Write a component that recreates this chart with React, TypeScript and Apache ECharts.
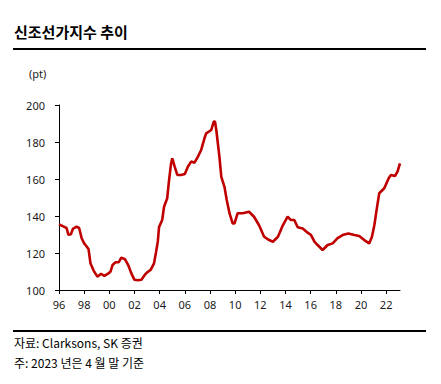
import React, { useEffect, useRef } from "react";
import * as echarts from "echarts";

// Decimal year (year + month fraction) and index value (pt)
const dates: number[] = [
  1996.0, 1996.3, 1996.6, 1996.75, 1996.95, 1997.1, 1997.4, 1997.6, 1997.8, 1998.0,
  1998.2, 1998.35, 1998.5, 1998.75, 1999.05, 1999.35, 1999.6, 1999.9, 2000.1, 2000.25,
  2000.5, 2000.75, 2000.95, 2001.25, 2001.5, 2001.75, 2002.0, 2002.25, 2002.55, 2002.8,
  2003.0, 2003.3, 2003.55, 2003.7, 2003.85, 2003.95, 2004.2, 2004.35, 2004.6, 2004.75,
  2004.9, 2005.0, 2005.2, 2005.4, 2005.7, 2006.0, 2006.24, 2006.5, 2006.77, 2007.03,
  2007.3, 2007.56, 2007.7, 2008.1, 2008.3, 2008.4, 2008.5, 2008.75, 2008.9, 2009.15,
  2009.33, 2009.55, 2009.8, 2009.95, 2010.2, 2010.6, 2011.1, 2011.5, 2011.9, 2012.3,
  2012.7, 2013.0, 2013.4, 2013.8, 2014.17, 2014.44, 2014.7, 2014.97, 2015.37, 2015.76,
  2016.03, 2016.3, 2016.55, 2016.95, 2017.35, 2017.75, 2018.14, 2018.54, 2019.0, 2019.47,
  2019.86, 2020.26, 2020.65, 2020.87, 2021.06, 2021.32, 2021.45, 2021.85, 2022.2, 2022.38,
  2022.7, 2022.9, 2023.1,
];
const values: number[] = [
  135.5, 134.5, 133.5, 129.8, 130.2, 133, 134.2, 133.5, 128, 125.2,
  123.5, 122, 114.5, 110.5, 107.2, 108.8, 107.6, 108.8, 110, 113.5,
  115, 115, 117.5, 116.6, 113.5, 109, 105.5, 105.3, 105.5, 108,
  109.5, 111, 114.4, 120, 126, 134, 137.8, 145, 149.6, 159.5,
  168, 171.2, 166.6, 162.2, 162.2, 162.7, 166.6, 169.4, 168.8, 172,
  175.7, 182, 184.7, 186.5, 191, 191, 186.5, 172, 161.2, 155.8,
  148.6, 141.5, 136, 136, 141.5, 141.5, 142.3, 139.6, 135, 128.8,
  127, 126.1, 128.8, 135.1, 139.6, 137.8, 137.8, 133.9, 133.3, 131,
  129.7, 126.1, 124.3, 121.6, 124.3, 125.2, 128, 129.7, 130.6, 129.7,
  129.2, 127, 125.2, 128.8, 135, 146.8, 152.3, 155, 160.4, 162.2,
  161.6, 164, 168.5,
];
const xTickYears: number[] = [1996, 1998, 2000, 2002, 2004, 2006, 2008, 2010, 2012, 2014, 2016, 2018, 2020, 2022];
const yTicks: number[] = [100, 120, 140, 160, 180, 200];

const title = "신조선가지수 추이";
const unitLabel = "(pt)";
const sourceText = "자료: Clarksons, SK 증권";
const noteText = "주: 2023 년은 4 월 말 기준";

export default function App() {
  const ref = useRef<HTMLDivElement>(null);
  useEffect(() => {
    if (!ref.current) return;
    const chart = echarts.init(ref.current, null, { renderer: "svg" });
    const fontFamily = "'Noto Sans CJK KR', 'Noto Sans', sans-serif";
    chart.setOption({
      animation: false,
      backgroundColor: "#ffffff",
      textStyle: { fontFamily },
      grid: { left: 59, right: 41, top: 105, bottom: 94, containLabel: false },
      xAxis: {
        type: "value",
        min: 1996,
        max: 2023.1,
        interval: 2,
        splitLine: { show: false },
        axisLine: { show: true, lineStyle: { color: "#000", width: 1 } },
        axisTick: { show: true, length: 4, lineStyle: { color: "#000" }, customValues: xTickYears },
        axisLabel: {
          color: "#1a1a1a",
          fontSize: 11,
          margin: 9,
          fontFamily: "'Noto Sans', sans-serif",
          customValues: xTickYears,
          formatter: (v: number) => String(Math.round(v) % 100).padStart(2, "0"),
        },
      },
      yAxis: {
        type: "value",
        min: yTicks[0],
        max: yTicks[yTicks.length - 1],
        interval: 20,
        splitLine: { show: false },
        axisLine: { show: true, lineStyle: { color: "#000", width: 1 } },
        axisTick: { show: true, inside: false, length: 4, lineStyle: { color: "#000" } },
        axisLabel: { color: "#1a1a1a", fontSize: 11, margin: 14, fontFamily: "'Noto Sans', sans-serif" },
      },
      series: [
        {
          type: "line",
          data: dates.map((d, i) => [d, values[i]]),
          showSymbol: false,
          symbol: "none",
          smooth: false,
          lineStyle: { color: "#C00000", width: 2.6 },
          itemStyle: { color: "#C00000" },
        },
      ],
      graphic: [
        {
          type: "text",
          left: 14,
          top: 24,
          style: { text: title, fill: "#000", font: `bold 15px ${fontFamily}` },
        },
        { type: "rect", shape: { x: 13, y: 48, width: 413, height: 2 }, style: { fill: "#000" } },
        {
          type: "text",
          left: 29,
          top: 68,
          style: { text: unitLabel, fill: "#1a1a1a", font: "11px 'Noto Sans', sans-serif" },
        },
        { type: "rect", shape: { x: 13, y: 330, width: 413, height: 2 }, style: { fill: "#000" } },
        {
          type: "text",
          left: 14,
          top: 336,
          style: { text: sourceText, fill: "#000", font: `12px ${fontFamily}` },
        },
        {
          type: "text",
          left: 14,
          top: 356,
          style: { text: noteText, fill: "#000", font: `12px ${fontFamily}` },
        },
      ],
    });
    return () => chart.dispose();
  }, []);
  return (
    <div
      ref={ref}
      style={{ position: "fixed", left: 0, top: 0, width: 441, height: 384, background: "#fff" }}
    />
  );
}
